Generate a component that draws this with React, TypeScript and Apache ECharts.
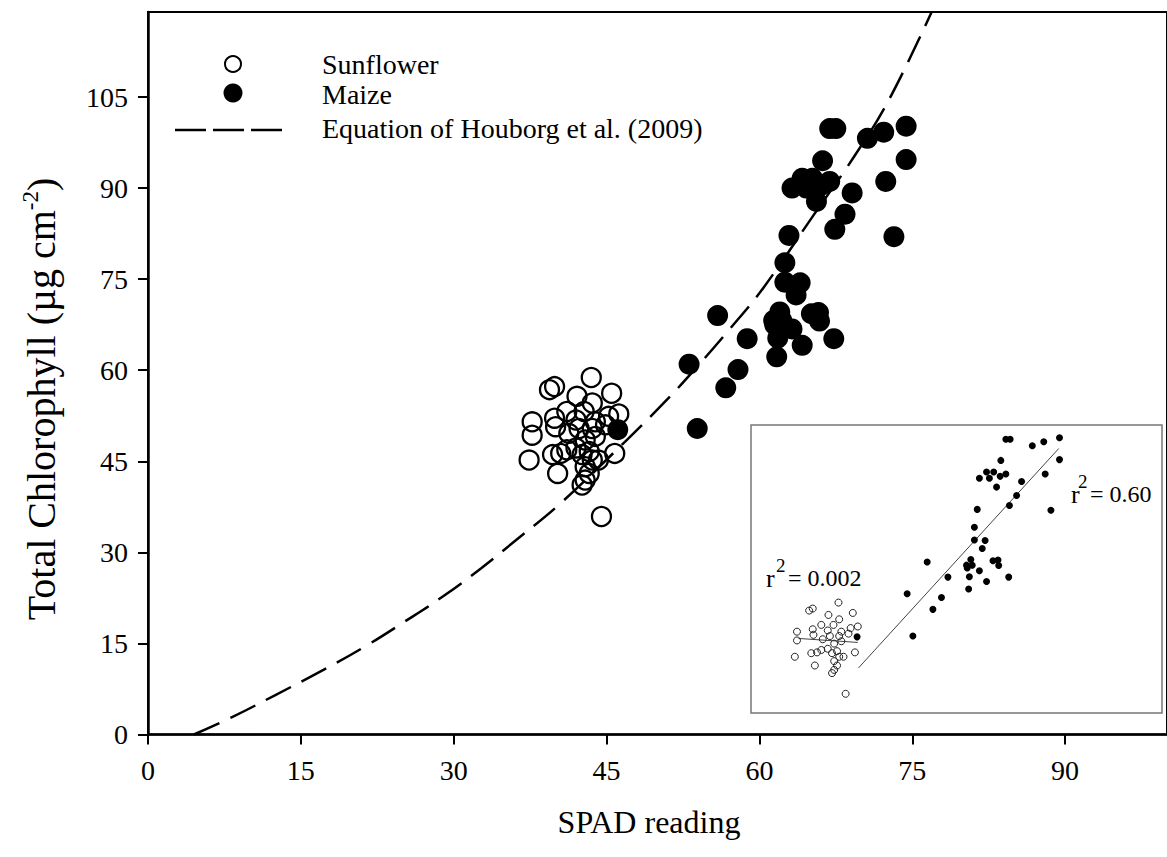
import React, { useEffect, useRef } from "react";
import * as echarts from "echarts";

// ---- data ----
const xTickValues = [0, 15, 30, 45, 60, 75, 90];
const yTickValues = [0, 15, 30, 45, 60, 75, 90, 105];

const sunflower: [number, number][] = [
  [43.5, 58.8], [39.4, 56.8], [39.9, 57.3], [45.5, 56.2], [42.1, 55.7], [43.6, 54.6],
  [46.2, 52.8], [41.1, 53.2], [37.7, 51.5], [37.7, 49.3], [39.9, 52.1], [40.0, 50.7],
  [42.0, 51.8], [42.8, 53.2], [43.9, 51.5], [45.2, 52.4], [44.9, 51.0], [41.3, 49.6],
  [42.3, 50.4], [43.6, 50.4], [43.9, 49.1], [42.9, 48.5], [37.4, 45.2], [39.7, 46.1],
  [40.5, 46.3], [41.1, 46.9], [42.0, 47.2], [42.6, 46.1], [43.3, 46.6], [43.6, 45.2],
  [44.2, 45.2], [45.8, 46.3], [42.9, 44.1], [43.3, 43.0], [42.9, 41.9], [42.6, 41.1],
  [40.2, 43.0], [44.5, 35.9],
];

const maize: [number, number][] = [
  [66.9, 99.8], [67.5, 99.8], [70.6, 98.2], [72.2, 99.2], [74.4, 100.2], [74.4, 94.7],
  [66.2, 94.5], [64.2, 91.6], [65.2, 91.6], [63.2, 90.0], [64.6, 90.0], [66.1, 90.5],
  [66.9, 91.1], [65.6, 87.8], [69.1, 89.2], [72.4, 91.1], [68.4, 85.7], [67.4, 83.2],
  [73.2, 82.0], [62.9, 82.2], [62.5, 77.7], [62.5, 74.5], [64.0, 74.4], [63.6, 72.4],
  [55.9, 69.0], [62.0, 69.6], [61.4, 68.2], [62.2, 68.2], [61.5, 67.5], [65.1, 69.3],
  [65.8, 69.5], [65.9, 68.1], [63.2, 66.8], [58.8, 65.2], [61.8, 65.3], [67.3, 65.2],
  [64.2, 64.1], [61.7, 62.2], [53.1, 61.0], [57.9, 60.1], [56.7, 57.1], [53.9, 50.4],
  [46.1, 50.2],
];

// Dashed curve (Houborg et al. 2009)
const houborgCurve: [number, number][] = [
  [4.5, 0], [8.3, 2.9], [12.5, 6.5], [17.5, 10.9], [21.4, 14.6], [25.1, 18.5],
  [29.0, 22.8], [32.7, 27.4], [36.4, 32.4], [40.3, 37.8], [46.8, 48.2], [50.5, 54.4],
  [53.0, 58.9], [57.2, 67.0], [60.4, 73.6], [65.3, 85.5], [69.3, 95.2], [72.7, 104.5],
  [76.9, 119],
];

// Inset regression lines
const sunflowerFit: [number, number][] = [[37.9, 49.8], [46.2, 48.8]];
const maizeFit: [number, number][] = [[46.3, 42.4], [74.3, 97.5]];
const insetXTicks = [45, 60, 75];
const insetYTicks = [45, 60, 75, 90];

const legendLabels = ["Sunflower", "Maize", "Equation of Houborg et al. (2009)"];
const r2Sunflower = "= 0.002";
const r2Maize = "= 0.60";

const FONT = "Liberation Serif";

export default function App() {
  const ref = useRef<HTMLDivElement>(null);
  useEffect(() => {
    if (!ref.current) return;
    const chart = echarts.init(ref.current, undefined, { renderer: "svg" });
    const option: any = {
      animation: false,
      backgroundColor: "#fff",
      textStyle: { fontFamily: FONT },
      grid: [
        {
          left: 148,
          right: -10,
          top: 12,
          bottom: 122.5,
          show: true,
          borderColor: "#000",
          borderWidth: 2,
        },
        {
          left: 751,
          top: 425,
          width: 411,
          height: 288,
          show: true,
          backgroundColor: "#fff",
          borderColor: "#777",
          borderWidth: 1.5,
          z: 5,
        },
      ],
      xAxis: [
        {
          type: "value",
          gridIndex: 0,
          min: 0,
          max: 100,
          interval: 15,
          axisLine: { show: true, onZero: false, lineStyle: { color: "#000", width: 2.5 } },
          axisTick: { show: true, length: 10, lineStyle: { color: "#000", width: 2 }, customValues: xTickValues },
          axisLabel: {
            color: "#000",
            fontFamily: FONT,
            fontSize: 28,
            margin: 22,
            customValues: xTickValues,
          },
          splitLine: { show: false },
        },
        {
          type: "value",
          gridIndex: 1,
          min: 31.27,
          max: 88.73,
          axisLine: { show: false },
          axisTick: { show: true, inside: true, length: 3, lineStyle: { color: "#888", width: 1 }, customValues: insetXTicks },
          axisLabel: { show: false },
          splitLine: { show: false },
        },
      ],
      yAxis: [
        {
          type: "value",
          gridIndex: 0,
          min: 0,
          max: 119,
          interval: 15,
          axisLine: { show: true, onZero: false, lineStyle: { color: "#000", width: 2.5 } },
          axisTick: { show: true, length: 10, lineStyle: { color: "#000", width: 2 }, customValues: yTickValues },
          axisLabel: {
            color: "#000",
            fontFamily: FONT,
            fontSize: 28,
            margin: 20,
            customValues: yTickValues,
          },
          splitLine: { show: false },
        },
        {
          type: "value",
          gridIndex: 1,
          min: 31.08,
          max: 103.39,
          axisLine: { show: false },
          axisTick: { show: true, inside: true, length: 3, lineStyle: { color: "#888", width: 1 }, customValues: insetYTicks },
          axisLabel: { show: false },
          splitLine: { show: false },
        },
      ],
      series: [
        {
          name: legendLabels[2],
          type: "line",
          data: houborgCurve,
          smooth: 0.4,
          showSymbol: false,
          clip: true,
          lineStyle: { color: "#000", width: 2.5, type: [28, 12] },
          z: 3,
        },
        {
          name: legendLabels[0],
          type: "scatter",
          data: sunflower,
          symbol: "circle",
          symbolSize: 19,
          itemStyle: { color: "rgba(0,0,0,0)", borderColor: "#000", borderWidth: 2.3, opacity: 1 },
          z: 4,
        },
        {
          name: legendLabels[1],
          type: "scatter",
          data: maize,
          symbol: "circle",
          symbolSize: 21,
          itemStyle: { color: "#000", opacity: 1 },
          z: 4,
        },
        {
          type: "scatter",
          xAxisIndex: 1,
          yAxisIndex: 1,
          data: sunflower,
          symbolSize: 7,
          itemStyle: { color: "rgba(0,0,0,0)", borderColor: "#222", borderWidth: 1, opacity: 1 },
          z: 6,
        },
        {
          type: "scatter",
          xAxisIndex: 1,
          yAxisIndex: 1,
          data: maize,
          symbolSize: 7,
          itemStyle: { color: "#000", opacity: 1 },
          z: 6,
        },
        {
          type: "line",
          xAxisIndex: 1,
          yAxisIndex: 1,
          data: sunflowerFit,
          showSymbol: false,
          lineStyle: { color: "#444", width: 1 },
          z: 6,
        },
        {
          type: "line",
          xAxisIndex: 1,
          yAxisIndex: 1,
          data: maizeFit,
          showSymbol: false,
          lineStyle: { color: "#444", width: 1 },
          z: 6,
        },
      ],
      graphic: [
        // legend
        {
          type: "circle",
          shape: { cx: 233, cy: 64, r: 8 },
          style: { fill: "#fff", stroke: "#000", lineWidth: 2 },
          z: 10,
        },
        {
          type: "circle",
          shape: { cx: 233, cy: 93, r: 9.5 },
          style: { fill: "#000" },
          z: 10,
        },
        {
          type: "line",
          shape: { x1: 175, y1: 130, x2: 283, y2: 130 },
          style: { stroke: "#000", lineWidth: 2.5, lineDash: [31, 7] },
          z: 10,
        },
        {
          type: "text",
          x: 322,
          y: 64,
          style: { text: legendLabels[0], font: `28px ${FONT}`, fill: "#000", verticalAlign: "middle" },
          z: 10,
        },
        {
          type: "text",
          x: 322,
          y: 94,
          style: { text: legendLabels[1], font: `28px ${FONT}`, fill: "#000", verticalAlign: "middle" },
          z: 10,
        },
        {
          type: "text",
          x: 322,
          y: 128,
          style: { text: legendLabels[2], font: `28px ${FONT}`, fill: "#000", verticalAlign: "middle" },
          z: 10,
        },
        // axis titles
        {
          type: "text",
          x: 649,
          y: 822,
          style: { text: "SPAD reading", font: `32px ${FONT}`, fill: "#000", align: "center", verticalAlign: "middle" },
        },
        {
          type: "text",
          x: 41,
          y: 399,
          rotation: Math.PI / 2,
          style: {
            text: "{a|Total Chlorophyll (µg cm}{s|-2}{a|)}",
            font: `40px ${FONT}`,
            fontFamily: FONT,
            align: "center",
            verticalAlign: "middle",
            fill: "#000",
            rich: {
              a: { fontFamily: FONT, fontSize: 40, fill: "#000", lineHeight: 44 },
              s: { fontFamily: FONT, fontSize: 23, fill: "#000", verticalAlign: "top", lineHeight: 44 },
            },
          },
        },
        // r2 labels in inset
        { type: "text", x: 766, y: 578, z: 20, style: { text: "r", font: `26px ${FONT}`, fill: "#000", verticalAlign: "middle" } },
        { type: "text", x: 776, y: 565, z: 20, style: { text: "2", font: `19px ${FONT}`, fill: "#000", verticalAlign: "middle" } },
        { type: "text", x: 788, y: 578, z: 20, style: { text: r2Sunflower, font: `24px ${FONT}`, fill: "#000", verticalAlign: "middle" } },
        { type: "text", x: 1071, y: 494, z: 20, style: { text: "r", font: `26px ${FONT}`, fill: "#000", verticalAlign: "middle" } },
        { type: "text", x: 1078, y: 481, z: 20, style: { text: "2", font: `19px ${FONT}`, fill: "#000", verticalAlign: "middle" } },
        { type: "text", x: 1090, y: 494, z: 20, style: { text: r2Maize, font: `24px ${FONT}`, fill: "#000", verticalAlign: "middle" } },
      ],
    };
    chart.setOption(option);
    return () => chart.dispose();
  }, []);
  return (
    <div
      ref={ref}
      style={{ position: "fixed", left: 0, top: 0, width: 1167, height: 857, background: "#fff" }}
    />
  );
}
